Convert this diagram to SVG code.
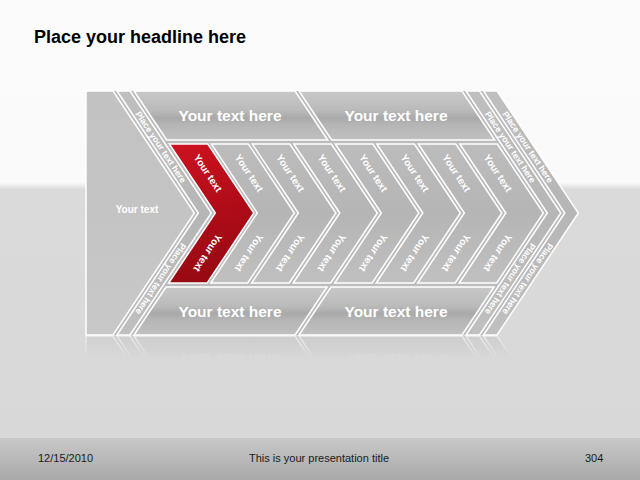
<svg xmlns="http://www.w3.org/2000/svg" xmlns:xlink="http://www.w3.org/1999/xlink" width="640" height="480" viewBox="0 0 640 480">
<defs>
<linearGradient id="bg" x1="0" y1="0" x2="0" y2="480" gradientUnits="userSpaceOnUse">
<stop offset="0" stop-color="#fbfbfb"/><stop offset="0.38" stop-color="#fafafa"/><stop offset="0.395" stop-color="#dadada"/><stop offset="1" stop-color="#d8d8d8"/>
</linearGradient>
<linearGradient id="foot" x1="0" y1="438" x2="0" y2="480" gradientUnits="userSpaceOnUse">
<stop offset="0" stop-color="#c8c8c8"/><stop offset="1" stop-color="#a9a9a9"/>
</linearGradient>
<linearGradient id="gTop" x1="0" y1="91" x2="0" y2="140" gradientUnits="userSpaceOnUse">
<stop offset="0" stop-color="#c8c8c8"/><stop offset="0.4" stop-color="#bababa"/><stop offset="0.55" stop-color="#a9a9a9"/><stop offset="0.7" stop-color="#b6b6b6"/><stop offset="1" stop-color="#c0c0c0"/>
</linearGradient>
<linearGradient id="gBot" x1="0" y1="287" x2="0" y2="335" gradientUnits="userSpaceOnUse">
<stop offset="0" stop-color="#c8c8c8"/><stop offset="0.4" stop-color="#bababa"/><stop offset="0.55" stop-color="#a9a9a9"/><stop offset="0.7" stop-color="#b6b6b6"/><stop offset="1" stop-color="#c0c0c0"/>
</linearGradient>
<linearGradient id="gChev" x1="0" y1="144" x2="0" y2="283" gradientUnits="userSpaceOnUse">
<stop offset="0" stop-color="#bcbcbc"/><stop offset="0.5" stop-color="#b5b5b5"/><stop offset="1" stop-color="#c0c0c0"/>
</linearGradient>
<linearGradient id="gStrip" x1="0" y1="91" x2="0" y2="335" gradientUnits="userSpaceOnUse">
<stop offset="0" stop-color="#bfbfbf"/><stop offset="0.5" stop-color="#b6b6b6"/><stop offset="1" stop-color="#c0c0c0"/>
</linearGradient>
<linearGradient id="gLeft" x1="0" y1="91" x2="0" y2="335" gradientUnits="userSpaceOnUse">
<stop offset="0" stop-color="#c2c2c2"/><stop offset="0.5" stop-color="#c4c4c4"/><stop offset="1" stop-color="#c8c8c8"/>
</linearGradient>
<linearGradient id="gRed" x1="180" y1="144" x2="215" y2="283" gradientUnits="userSpaceOnUse">
<stop offset="0" stop-color="#cc1220"/><stop offset="0.5" stop-color="#b00c18"/><stop offset="1" stop-color="#940a12"/>
</linearGradient>
<linearGradient id="refl" x1="0" y1="335" x2="0" y2="358" gradientUnits="userSpaceOnUse">
<stop offset="0" stop-color="#fff" stop-opacity="0.45"/><stop offset="1" stop-color="#fff" stop-opacity="0"/>
</linearGradient>
<mask id="reflMask" maskUnits="userSpaceOnUse" x="0" y="335" width="640" height="40">
<rect x="0" y="335" width="640" height="25" fill="url(#refl)"/>
</mask>
<style>
.sh{stroke:#fff;stroke-width:1.5;stroke-linejoin:miter}
.box{fill:url(#gTop)}
.boxb{fill:url(#gBot)}
.chev{fill:url(#gChev)}
.strip{fill:url(#gStrip)}
.t{font-family:"Liberation Sans",Arial,Helvetica,sans-serif;font-weight:bold;fill:#fff}
.big{font-size:15.5px;text-anchor:middle}
.yt{font-size:10px;text-anchor:middle;dominant-baseline:central}
.pt{font-size:8.8px;text-anchor:middle;dominant-baseline:central}
.ft{font-family:"Liberation Sans",Arial,Helvetica,sans-serif;font-size:11px;fill:#1a1a1a}
</style>
</defs>
<rect x="0" y="0" width="640" height="480" fill="url(#bg)"/>
<rect x="0" y="438" width="640" height="42" fill="url(#foot)"/>
<text x="34" y="43" font-family="Liberation Sans,Arial,Helvetica,sans-serif" font-weight="bold" font-size="18" fill="#000">Place your headline here</text>

<g id="diagram">
<polygon id="base" points="86,91 497,91 578.3,213 497,335 86,335" fill="#bcbcbc"/>
<g id="node-left">
<polygon class="sh" fill="url(#gLeft)" points="86,91 113,91 194.3,213 113,335 86,335"/>
<text class="t" x="137" y="213" font-size="10" text-anchor="middle">Your text</text>
</g>
<g id="node-stripA">
<polygon class="sh strip" points="117,91 130,91 211.3,213 130,335 117,335 198.3,213"/>
<text class="t pt" transform="translate(160.8,147) rotate(56.31)">Place your text here</text>
<text class="t pt" transform="translate(160.8,279) rotate(123.69)">Place your text here</text>
</g>
<g id="node-top1">
<polygon class="sh box" points="134,91 295,91 327.7,140 166.7,140"/>
<text class="t big" x="230" y="121">Your text here</text>
</g>
<g id="node-top2">
<polygon class="sh box" points="299,91 462,91 494.7,140 331.7,140"/>
<text class="t big" x="396" y="121">Your text here</text>
</g>
<g id="node-bot1">
<polygon class="sh boxb" points="166,287 327,287 295,335 134,335"/>
<text class="t big" x="230" y="317">Your text here</text>
</g>
<g id="node-bot2">
<polygon class="sh boxb" points="331,287 494,287 462,335 299,335"/>
<text class="t big" x="396" y="317">Your text here</text>
</g>
<g id="node-chev0">
<polygon class="sh" fill="url(#gRed)" points="169.33,144 207.83,144 253.83,213 207.17,283 168.67,283 215.33,213"/>
<text class="t yt" transform="translate(207.9,173) rotate(56.31)">Your text</text>
<text class="t yt" transform="translate(207.9,253) rotate(123.69)">Your text</text>
</g>
<g id="node-chev1">
<polygon class="sh chev" points="211.33,144 248.33,144 294.33,213 247.67,283 210.67,283 257.33,213"/>
<text class="t yt" transform="translate(249.1,173) rotate(56.31)">Your text</text>
<text class="t yt" transform="translate(249.1,253) rotate(123.69)">Your text</text>
</g>
<g id="node-chev2">
<polygon class="sh chev" points="252.33,144 289.83,144 335.83,213 289.17,283 251.67,283 298.33,213"/>
<text class="t yt" transform="translate(290.4,173) rotate(56.31)">Your text</text>
<text class="t yt" transform="translate(290.4,253) rotate(123.69)">Your text</text>
</g>
<g id="node-chev3">
<polygon class="sh chev" points="293.83,144 331.33,144 377.33,213 330.67,283 293.17,283 339.83,213"/>
<text class="t yt" transform="translate(331.9,173) rotate(56.31)">Your text</text>
<text class="t yt" transform="translate(331.9,253) rotate(123.69)">Your text</text>
</g>
<g id="node-chev4">
<polygon class="sh chev" points="335.33,144 372.83,144 418.83,213 372.17,283 334.67,283 381.33,213"/>
<text class="t yt" transform="translate(373.4,173) rotate(56.31)">Your text</text>
<text class="t yt" transform="translate(373.4,253) rotate(123.69)">Your text</text>
</g>
<g id="node-chev5">
<polygon class="sh chev" points="376.83,144 414.33,144 460.33,213 413.67,283 376.17,283 422.83,213"/>
<text class="t yt" transform="translate(414.9,173) rotate(56.31)">Your text</text>
<text class="t yt" transform="translate(414.9,253) rotate(123.69)">Your text</text>
</g>
<g id="node-chev6">
<polygon class="sh chev" points="418.33,144 455.83,144 501.83,213 455.17,283 417.67,283 464.33,213"/>
<text class="t yt" transform="translate(456.4,173) rotate(56.31)">Your text</text>
<text class="t yt" transform="translate(456.4,253) rotate(123.69)">Your text</text>
</g>
<g id="node-chev7">
<polygon class="sh chev" points="459.83,144 497.33,144 543.33,213 496.67,283 459.17,283 505.83,213"/>
<text class="t yt" transform="translate(497.9,173) rotate(56.31)">Your text</text>
<text class="t yt" transform="translate(497.9,253) rotate(123.69)">Your text</text>
</g>
<g id="node-stripB">
<polygon class="sh strip" points="466,91 479.5,91 560.8,213 479.5,335 466,335 547.3,213"/>
<text class="t pt" transform="translate(510.3,147) rotate(56.31)">Place your text here</text>
<text class="t pt" transform="translate(510.3,279) rotate(123.69)">Place your text here</text>
</g>
<g id="node-stripC">
<polygon class="sh strip" points="483.5,91 497,91 578.3,213 497,335 483.5,335 564.8,213"/>
<text class="t pt" transform="translate(527.8,147) rotate(56.31)">Place your text here</text>
<text class="t pt" transform="translate(527.8,279) rotate(123.69)">Place your text here</text>
</g>
</g>
<g id="reflection" mask="url(#reflMask)">
<use xlink:href="#diagram" href="#diagram" transform="translate(0,671) scale(1,-1)"/>
</g>

<text class="ft" x="38" y="462">12/15/2010</text>
<text class="ft" x="319" y="462" text-anchor="middle">This is your presentation title</text>
<text class="ft" x="585" y="462">304</text>
</svg>
